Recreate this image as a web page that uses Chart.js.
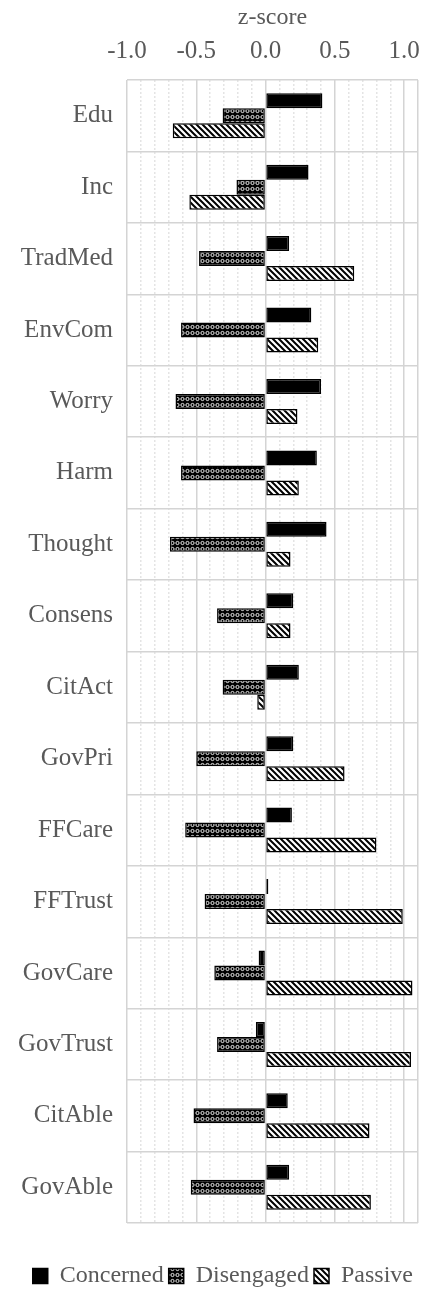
<!DOCTYPE html>
<html>
<head>
<meta charset="utf-8">
<script src="https://cdn.jsdelivr.net/npm/chart.js@4.4.1/dist/chart.umd.min.js"></script>
<style>
  html, body { margin: 0; padding: 0; background: #fff; }
  #wrap { width: 435px; height: 1289px; position: relative; }
</style>
</head>
<body>
<div id="wrap"><canvas id="zChart"></canvas></div>
<script>
const categories = ['Edu', 'Inc', 'TradMed', 'EnvCom', 'Worry', 'Harm', 'Thought', 'Consens',
    'CitAct', 'GovPri', 'FFCare', 'FFTrust', 'GovCare', 'GovTrust', 'CitAble', 'GovAble'];
const concerned = [0.41, 0.31, 0.17, 0.33, 0.40, 0.37, 0.44, 0.20, 0.24, 0.20, 0.19, 0.02, -0.05, -0.07, 0.16, 0.17];
const disengaged = [-0.31, -0.21, -0.48, -0.61, -0.65, -0.61, -0.69, -0.35, -0.31, -0.50, -0.58, -0.44, -0.37, -0.35, -0.52, -0.54];
const passive = [-0.67, -0.55, 0.64, 0.38, 0.23, 0.24, 0.18, 0.18, -0.06, 0.57, 0.80, 0.99, 1.06, 1.05, 0.75, 0.76];
const seriesNames = ['Concerned', 'Disengaged', 'Passive'];
const xTicks = [-1.0, -0.5, 0.0, 0.5, 1.0];

const textColor = '#595959';
const serif = "'Liberation Serif', 'Times New Roman', serif";

function makePattern(draw, w, h) {
    const c = document.createElement('canvas');
    c.width = w;
    c.height = h;
    draw(c.getContext('2d'), w, h);
    return c.getContext('2d').createPattern(c, 'repeat');
}

// black with small white loops
const crossPattern = makePattern((g, w, h) => {
    g.fillStyle = '#000';
    g.fillRect(0, 0, w, h);
    g.strokeStyle = '#fff';
    g.lineWidth = 0.9;
    g.beginPath();
    g.arc(w / 2, h / 2, 1.6, 0, Math.PI * 2);
    g.stroke();
}, 5, 6);

// white with black "\" stripes
const stripePattern = makePattern((g, w, h) => {
    g.fillStyle = '#fff';
    g.fillRect(0, 0, w, h);
    g.strokeStyle = '#000';
    g.lineWidth = 2;
    g.beginPath();
    g.moveTo(-1, -1); g.lineTo(w + 1, h + 1);
    g.moveTo(-1, h - 1); g.lineTo(1, h + 1);
    g.moveTo(w - 1, -1); g.lineTo(w + 1, 1);
    g.stroke();
}, 6, 6);

function isMajor(v) {
    return xTicks.some((t) => Math.abs(t - v) < 1e-6) || Math.abs(v - 1.1) < 1e-6;
}

// nudge the legend a little lower than the layout puts it
const legendShift = {
    id: 'legendShift',
    afterLayout(chart) {
        if (!chart.legend) return;
        chart.legend.top += 9;
        chart.legend.bottom += 9;
    }
};

const barStyle = { borderColor: '#000', borderWidth: 1.5, borderSkipped: false };

new Chart(document.getElementById('zChart'), {
    type: 'bar',
    data: {
        labels: categories,
        datasets: [
            { label: seriesNames[0], data: concerned, backgroundColor: '#000', ...barStyle },
            { label: seriesNames[1], data: disengaged, backgroundColor: crossPattern, ...barStyle },
            { label: seriesNames[2], data: passive, backgroundColor: stripePattern, ...barStyle }
        ]
    },
    plugins: [legendShift],
    options: {
        indexAxis: 'y',
        responsive: true,
        maintainAspectRatio: false,
        animation: false,
        datasets: { bar: { categoryPercentage: 0.63, barPercentage: 1.0 } },
        layout: { padding: { top: 0, right: 17, bottom: 0, left: 0 } },
        plugins: {
            tooltip: { enabled: false },
            legend: {
                position: 'bottom',
                align: 'end',
                // blank title only used as a gap between plot and legend
                title: { display: true, text: ' ', font: { size: 10 }, padding: { top: 15, bottom: 0 } },
                labels: {
                    color: textColor,
                    font: { family: serif, size: 24 },
                    boxWidth: 15,
                    boxHeight: 15,
                    padding: 5
                }
            }
        },
        scales: {
            x: {
                position: 'top',
                min: -1.0,
                max: 1.1,
                afterFit: (scale) => { scale.height = 80; },
                title: {
                    display: true,
                    text: 'z-score',
                    color: textColor,
                    font: { family: serif, size: 24 },
                    padding: { top: 3, bottom: 0 }
                },
                ticks: {
                    stepSize: 0.1,
                    autoSkip: false,
                    maxRotation: 0,
                    color: textColor,
                    font: { family: serif, size: 25 },
                    padding: 14,
                    callback: (value) => {
                        const hit = xTicks.find((t) => Math.abs(t - value) < 1e-6);
                        return hit === undefined ? '' : hit.toFixed(1);
                    }
                },
                grid: {
                    drawTicks: false,
                    color: (ctx) => (isMajor(ctx.tick.value) ? '#d4d4d4' : '#e4e4e4'),
                    lineWidth: 1.5
                },
                border: {
                    display: false,
                    dash: (ctx) => (ctx.tick && !isMajor(ctx.tick.value) ? [2, 2] : [])
                }
            },
            y: {
                afterFit: (scale) => { scale.width = 127; },
                ticks: {
                    color: textColor,
                    font: { family: serif, size: 25 },
                    padding: 14
                },
                grid: {
                    offset: true,
                    drawTicks: false,
                    color: '#d4d4d4',
                    lineWidth: 1.5
                },
                border: { display: false }
            }
        }
    }
});
</script>
</body>
</html>
